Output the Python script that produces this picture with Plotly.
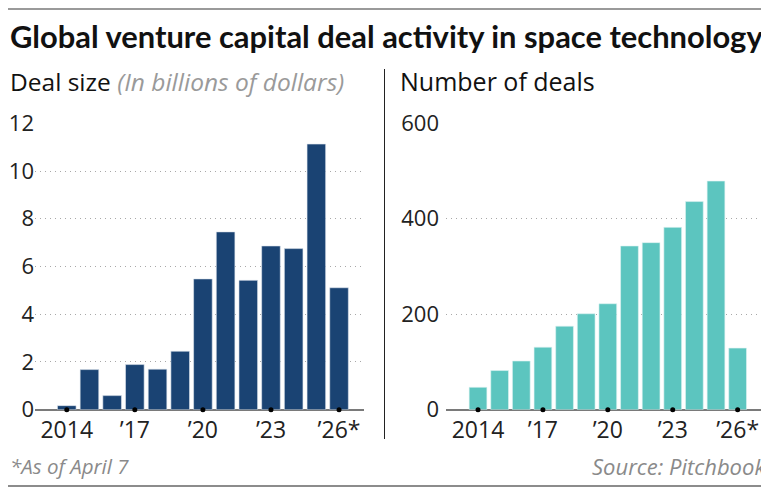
"""Space tech VC deal activity, two bar panels"""

import plotly.graph_objects as go

# the page puts the figure 8px in from the top-left corner, so the figure is
# 8px smaller than the window and every reference pixel is shifted back by 8
OFF = 8
W, H = 769 - OFF, 487 - OFF

years = list(range(2014, 2027))
deal_size = [0.17, 1.68, 0.59, 1.89, 1.70, 2.45, 5.48, 7.45, 5.42, 6.86, 6.75, 11.13, 5.11]
deal_count = [47, 82, 102, 131, 175, 201, 222, 343, 350, 382, 436, 479, 129]

tick_years = [2014, 2017, 2020, 2023, 2026]
tick_text = ["2014", "\u201917", "\u201920", "\u201923", "\u201926*"]
left_ticks = [0, 2, 4, 6, 8, 10, 12]
right_ticks = [0, 200, 400, 600]

NAVY = "#1a4373"
TEAL = "#5cc5bf"
TITLE_FONT = "Lato"
FONT = "Open Sans"


def px(x):
    return max(x - OFF, 0) / W


def py(y):
    return 1 - max(y - OFF, 0) / H


fig = go.Figure()

fig.add_trace(go.Bar(x=years, y=deal_size, marker_color=NAVY, width=0.82,
                     marker_line=dict(color="#dfe6ee", width=0.6),
                     xaxis="x", yaxis="y"))
fig.add_trace(go.Bar(x=years, y=deal_count, marker_color=TEAL, width=0.82,
                     marker_line=dict(color="#dff4f2", width=0.6),
                     xaxis="x2", yaxis="y2"))

# little black dots on the baseline at the labelled years
fig.add_trace(go.Scatter(x=tick_years, y=[0] * len(tick_years), mode="markers",
                         marker=dict(color="black", size=5), cliponaxis=False,
                         xaxis="x", yaxis="y"))
fig.add_trace(go.Scatter(x=tick_years, y=[0] * len(tick_years), mode="markers",
                         marker=dict(color="black", size=5), cliponaxis=False,
                         xaxis="x2", yaxis="y2"))

xcommon = dict(tickmode="array", tickvals=tick_years, ticktext=tick_text,
               showgrid=False, zeroline=False, showline=False, ticks="",
               automargin=False, ticklabelstandoff=4,
               tickfont=dict(family=FONT, size=23, color="#222"), fixedrange=True)
ycommon = dict(showgrid=True, griddash="1px,4px", gridcolor="#a8a8a8", gridwidth=1.2,
               zeroline=True, zerolinecolor="#7a7a7a", zerolinewidth=1.5,
               showline=False, ticks="", tickmode="array", automargin=False,
               tickfont=dict(family=FONT, size=22, color="#222"), fixedrange=True)

fig.update_layout(
    width=W, height=H,
    margin=dict(l=0, r=0, t=0, b=0, autoexpand=False),
    paper_bgcolor="white", plot_bgcolor="white",
    showlegend=False, bargap=0.18,
    font=dict(family=FONT, color="#222"),
    xaxis=dict(xcommon, domain=[px(35), px(364)], range=[2012.6, 2027.1], anchor="y"),
    yaxis=dict(ycommon, domain=[py(409.7), py(123.3)], range=[0, 12],
               tickvals=left_ticks, ticklabelstandoff=0, anchor="x"),
    xaxis2=dict(xcommon, domain=[px(446), px(769)], range=[2012.52, 2027.45], anchor="y2"),
    yaxis2=dict(ycommon, domain=[py(409.7), py(123.3)], range=[0, 600],
                tickvals=right_ticks, ticklabelstandoff=6, anchor="x2"),
)

annotations = [
    dict(text="<b>Global venture capital deal activity in space technology</b>",
         x=px(2), y=py(37), xanchor="left", yanchor="middle",
         font=dict(family=TITLE_FONT, size=30.9, color="#111")),
    dict(text="Deal size <i><span style='color:#9a9a9a'>(In billions of dollars)</span></i>",
         x=px(2), y=py(81), xanchor="left", yanchor="middle",
         font=dict(family=FONT, size=24.5, color="#111")),
    dict(text="Number of deals",
         x=px(398), y=py(81), xanchor="left", yanchor="middle",
         font=dict(family=FONT, size=25, color="#111")),
    dict(text="<i>*As of April 7</i>",
         x=px(2), y=py(466), xanchor="left", yanchor="middle",
         font=dict(family=FONT, size=20.5, color="#8a8a8a")),
    dict(text="<i>Source: Pitchbook</i>",
         x=px(768), y=py(466), xanchor="right", yanchor="middle",
         font=dict(family=FONT, size=22, color="#8a8a8a")),
]
for a in annotations:
    fig.add_annotation(a, xref="paper", yref="paper", showarrow=False)

shapes = [
    dict(type="line", x0=0, x1=1, y0=py(1) - 0.002, y1=py(1) - 0.002,
         line=dict(color="#9a9a9a", width=2)),
    dict(type="line", x0=0, x1=1, y0=py(486), y1=py(486), line=dict(color="#666", width=1.5)),
    dict(type="line", x0=px(384.5), x1=px(384.5), y0=py(69), y1=py(439),
         line=dict(color="#222", width=1)),
]
for s in shapes:
    fig.add_shape(s, xref="paper", yref="paper")

fig.write_html("out.html")
